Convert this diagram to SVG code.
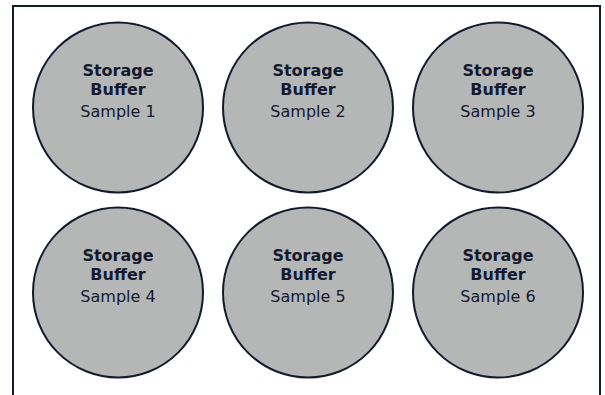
<svg xmlns="http://www.w3.org/2000/svg" width="605" height="395" viewBox="0 0 605 395">
<style>
.c{fill:#b4b7b6;stroke:#141a2e;stroke-width:2}
.t{font-family:"DejaVu Sans",sans-serif;font-size:16px;fill:#141a2e;text-anchor:middle}
.b{font-weight:700}
</style>
<rect width="605" height="395" fill="#ffffff"/>
<path d="M13,395 V6 H600 V395" fill="none" stroke="#141a2e" stroke-width="2"/>
<g id="node1"><circle class="c" cx="118" cy="107.5" r="85"/><text class="t b" x="118" y="75.5">Storage</text><text class="t b" x="118" y="94.5">Buffer</text><text class="t" x="118" y="117">Sample 1</text></g>
<g id="node2"><circle class="c" cx="308" cy="107.5" r="85"/><text class="t b" x="308" y="75.5">Storage</text><text class="t b" x="308" y="94.5">Buffer</text><text class="t" x="308" y="117">Sample 2</text></g>
<g id="node3"><circle class="c" cx="498" cy="107.5" r="85"/><text class="t b" x="498" y="75.5">Storage</text><text class="t b" x="498" y="94.5">Buffer</text><text class="t" x="498" y="117">Sample 3</text></g>
<g id="node4"><circle class="c" cx="118" cy="292.5" r="85"/><text class="t b" x="118" y="260.5">Storage</text><text class="t b" x="118" y="279.5">Buffer</text><text class="t" x="118" y="302">Sample 4</text></g>
<g id="node5"><circle class="c" cx="308" cy="292.5" r="85"/><text class="t b" x="308" y="260.5">Storage</text><text class="t b" x="308" y="279.5">Buffer</text><text class="t" x="308" y="302">Sample 5</text></g>
<g id="node6"><circle class="c" cx="498" cy="292.5" r="85"/><text class="t b" x="498" y="260.5">Storage</text><text class="t b" x="498" y="279.5">Buffer</text><text class="t" x="498" y="302">Sample 6</text></g>
<g id="connectors"></g>
</svg>
